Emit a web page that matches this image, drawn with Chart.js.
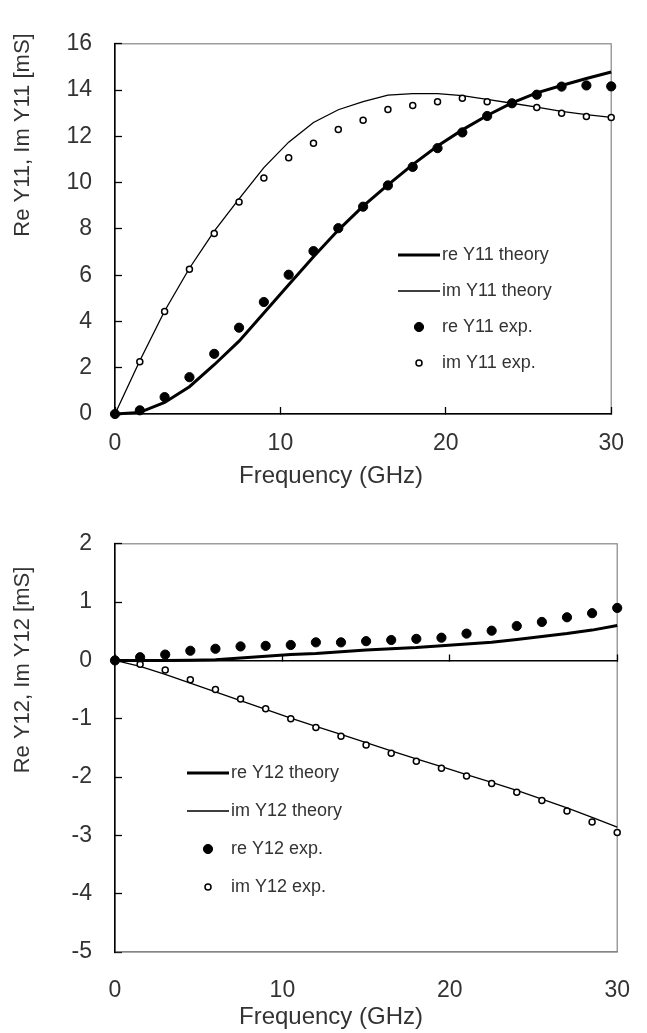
<!DOCTYPE html>
<html>
<head>
<meta charset="utf-8">
<script src="https://cdn.jsdelivr.net/npm/chart.js@4.4.1/dist/chart.umd.min.js"></script>
<style>
  html, body { margin: 0; padding: 0; background: #fff; }
  #c1 { position: absolute; left: 0; top: 0; }
  #c2 { position: absolute; left: 0; top: 500px; }
</style>
</head>
<body>
<canvas id="c1" width="647" height="500"></canvas>
<canvas id="c2" width="647" height="533"></canvas>
<script>
// frequency points (GHz)
var freq = [0, 1.5, 3, 4.5, 6, 7.5, 9, 10.5, 12, 13.5, 15, 16.5, 18, 19.5, 21, 22.5, 24, 25.5, 27, 28.5, 30];

// Y11 [mS]
var reY11Theory = [0, 0.07, 0.5, 1.18, 2.13, 3.15, 4.37, 5.59, 6.8, 7.95, 8.98, 9.9, 10.78, 11.58, 12.28, 12.9, 13.45, 13.88, 14.2, 14.5, 14.78];
var imY11Theory = [0, 2.3, 4.45, 6.3, 7.9, 9.3, 10.65, 11.75, 12.6, 13.15, 13.5, 13.78, 13.85, 13.85, 13.76, 13.6, 13.43, 13.26, 13.08, 12.94, 12.82];
var reY11Exp = [0, 0.16, 0.73, 1.59, 2.6, 3.73, 4.84, 6.02, 7.04, 8.03, 8.96, 9.88, 10.68, 11.49, 12.17, 12.88, 13.43, 13.8, 14.15, 14.2, 14.16];
var imY11Exp = [0, 2.26, 4.43, 6.26, 7.8, 9.16, 10.2, 11.08, 11.7, 12.3, 12.7, 13.16, 13.33, 13.5, 13.65, 13.5, 13.4, 13.25, 13.0, 12.86, 12.82];

// Y12 [mS]
var reY12Theory = [0, 0, 0, 0.005, 0.01, 0.04, 0.07, 0.1, 0.12, 0.15, 0.18, 0.2, 0.22, 0.25, 0.28, 0.31, 0.36, 0.41, 0.46, 0.52, 0.6];
var imY12Theory = [0, -0.1, -0.24, -0.39, -0.54, -0.69, -0.84, -0.99, -1.13, -1.27, -1.41, -1.55, -1.69, -1.82, -1.96, -2.09, -2.23, -2.38, -2.53, -2.69, -2.86];
var reY12Exp = [0, 0.055, 0.1, 0.166, 0.2, 0.24, 0.25, 0.265, 0.31, 0.31, 0.33, 0.35, 0.37, 0.39, 0.46, 0.51, 0.59, 0.66, 0.74, 0.81, 0.9];
var imY12Exp = [0, -0.066, -0.166, -0.33, -0.5, -0.66, -0.83, -1.0, -1.15, -1.3, -1.45, -1.59, -1.73, -1.85, -1.98, -2.11, -2.26, -2.4, -2.58, -2.77, -2.95];

var FONT = '"Liberation Sans", Arial, sans-serif';
var TEXT = '#333';

function pts(vals) {
    return freq.map(function (f, i) { return { x: f, y: vals[i] }; });
}

function makeDatasets(name, reT, imT, reE, imE) {
    return [
        { label: 're ' + name + ' theory', data: pts(reT), borderColor: '#000', borderWidth: 3, pointRadius: 0, order: 2 },
        { label: 'im ' + name + ' theory', data: pts(imT), borderColor: '#000', borderWidth: 1.3, pointRadius: 0, order: 2 },
        { label: 're ' + name + ' exp.', data: pts(reE), showLine: false, pointRadius: 4.6, pointBackgroundColor: '#000', pointBorderColor: '#000', pointBorderWidth: 1, order: 1 },
        { label: 'im ' + name + ' exp.', data: pts(imE), showLine: false, pointRadius: 3, pointBackgroundColor: '#fff', pointBorderColor: '#000', pointBorderWidth: 1.5, order: 1 }
    ];
}

// gray frame round the plot area
var plotFrame = {
    id: 'plotFrame',
    beforeDraw: function (chart) {
        var a = chart.chartArea, ctx = chart.ctx;
        ctx.save();
        ctx.strokeStyle = '#858585';
        ctx.lineWidth = 1.2;
        ctx.strokeRect(a.left, a.top, a.right - a.left, a.bottom - a.top);
        ctx.restore();
    }
};

// axis titles placed like the original (centred on the figure, not the plot)
var axisTitles = {
    id: 'axisTitles',
    afterDraw: function (chart, args, o) {
        var ctx = chart.ctx;
        ctx.save();
        ctx.fillStyle = TEXT;
        ctx.textAlign = 'center';
        ctx.textBaseline = 'middle';
        ctx.font = '24px ' + FONT;
        ctx.fillText(o.xText, o.xAt[0], o.xAt[1]);
        ctx.font = '22px ' + FONT;
        ctx.translate(o.yAt[0], o.yAt[1]);
        ctx.rotate(-Math.PI / 2);
        ctx.fillText(o.yText, 0, 0);
        ctx.restore();
    }
};

// legend drawn inside the plot: sample line / marker then label
var innerLegend = {
    id: 'innerLegend',
    afterDraw: function (chart, args, o) {
        var ctx = chart.ctx;
        ctx.save();
        ctx.font = '18px ' + FONT;
        ctx.textBaseline = 'middle';
        chart.data.datasets.forEach(function (ds, i) {
            var y = o.y + i * o.gap;
            if (ds.showLine === false) {
                ctx.beginPath();
                ctx.arc(o.x + 21, y, ds.pointRadius, 0, Math.PI * 2);
                ctx.fillStyle = ds.pointBackgroundColor;
                ctx.fill();
                ctx.lineWidth = ds.pointBorderWidth;
                ctx.strokeStyle = ds.pointBorderColor;
                ctx.stroke();
            } else {
                ctx.beginPath();
                ctx.moveTo(o.x, y);
                ctx.lineTo(o.x + 42, y);
                ctx.lineWidth = ds.borderWidth;
                ctx.strokeStyle = ds.borderColor;
                ctx.stroke();
            }
            ctx.fillStyle = TEXT;
            ctx.fillText(ds.label, o.x + 44, y);
        });
        ctx.restore();
    }
};

var tickFont = { family: FONT, size: 23 };

new Chart('c1', {
    type: 'line',
    data: { datasets: makeDatasets('Y11', reY11Theory, imY11Theory, reY11Exp, imY11Exp) },
    options: {
        responsive: false,
        animation: false,
        clip: false,
        layout: { padding: { left: 0, top: 17, right: 16, bottom: 0 } },
        elements: { line: { tension: 0 } },
        scales: {
            x: {
                type: 'linear', min: 0, max: 30,
                ticks: { stepSize: 10, padding: 23, color: TEXT, font: tickFont, maxRotation: 0 },
                grid: { drawOnChartArea: false, tickLength: -7, tickColor: '#000', tickWidth: 1.3 },
                border: { color: '#000', width: 1.5 },
                afterFit: function (s) { s.height = 86; }
            },
            y: {
                min: 0, max: 16,
                ticks: { stepSize: 2, padding: 30, color: TEXT, font: tickFont },
                grid: { drawOnChartArea: false, tickLength: -7, tickColor: '#000', tickWidth: 1.3 },
                border: { color: '#000', width: 1.5 },
                afterFit: function (s) { s.width = 115; }
            }
        },
        plugins: {
            legend: { display: false },
            tooltip: { enabled: false },
            axisTitles: { xText: 'Frequency (GHz)', xAt: [331, 476], yText: 'Re Y11, Im Y11 [mS]', yAt: [23, 135] },
            innerLegend: { x: 398, y: 255, gap: 36 }
        }
    },
    plugins: [plotFrame, axisTitles, innerLegend]
});

new Chart('c2', {
    type: 'line',
    data: { datasets: makeDatasets('Y12', reY12Theory, imY12Theory, reY12Exp, imY12Exp) },
    options: {
        responsive: false,
        animation: false,
        clip: false,
        layout: { padding: { left: 0, top: 27, right: 16, bottom: 0 } },
        elements: { line: { tension: 0 } },
        scales: {
            x: {
                type: 'linear', min: 0, max: 30,
                position: { y: 0 },
                ticks: { display: false, stepSize: 10 },
                grid: { drawOnChartArea: false, tickLength: -7, tickColor: '#000', tickWidth: 1.3 },
                border: { color: '#000', width: 1.5 },
                afterFit: function (s) { s.height = 0; }
            },
            x2: {
                type: 'linear', axis: 'x', position: 'bottom', min: 0, max: 30,
                ticks: { stepSize: 10, padding: 17, color: TEXT, font: tickFont, maxRotation: 0 },
                grid: { display: false },
                border: { color: '#858585', width: 1.2 },
                afterFit: function (s) { s.height = 81; }
            },
            y: {
                min: -5, max: 2,
                ticks: { stepSize: 1, padding: 30, color: TEXT, font: tickFont },
                grid: { drawOnChartArea: false, tickLength: -7, tickColor: '#000', tickWidth: 1.3 },
                border: { color: '#000', width: 1.5 },
                afterFit: function (s) { s.width = 115; }
            }
        },
        plugins: {
            legend: { display: false },
            tooltip: { enabled: false },
            axisTitles: { xText: 'Frequency (GHz)', xAt: [331, 517], yText: 'Re Y12, Im Y12 [mS]', yAt: [23, 170] },
            innerLegend: { x: 187, y: 273, gap: 38 }
        }
    },
    plugins: [plotFrame, axisTitles, innerLegend]
});
</script>
</body>
</html>
